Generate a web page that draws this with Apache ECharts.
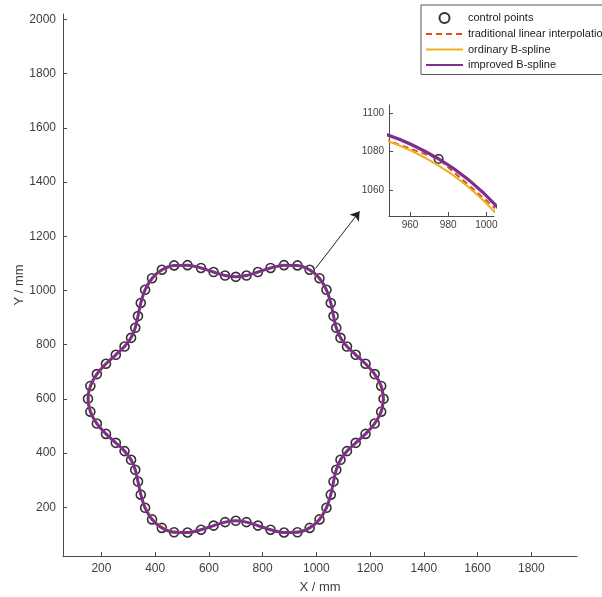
<!DOCTYPE html>
<html>
<head>
<meta charset="utf-8">
<script src="https://cdn.jsdelivr.net/npm/echarts@6/dist/echarts.min.js"></script>
<style>
html,body{margin:0;padding:0;background:#fff;}
#chart{width:602px;height:597px;}
</style>
</head>
<body>
<div id="chart"></div>
<script>
// Control points (X / mm, Y / mm)
var ctrlX = [1250,1241.2,1217.0,1183.0,1146.4,1113.9,1089.7,1074.1,1063.9,1053.6,1037.5,1011.6,975.0,929.6,879.6,829.4,782.5,739.8,
  700,660.2,617.5,570.6,520.4,470.4,425.0,388.4,362.5,346.4,336.1,325.9,310.3,286.1,253.6,217.0,183.0,158.8,
  150,158.8,183.0,217.0,253.6,286.1,310.3,325.9,336.1,346.4,362.5,388.4,425.0,470.4,520.4,570.6,617.5,660.2,
  700,739.8,782.5,829.4,879.6,929.6,975.0,1011.6,1037.5,1053.6,1063.9,1074.1,1089.7,1113.9,1146.4,1183.0,1217.0,1241.2];
var ctrlY = [600,647.4,691.2,729.4,762.5,793.0,825.0,862.0,905.3,953.6,1002.2,1045.0,1076.3,1092.4,1093.3,1083.0,1067.8,1055.0,
  1050,1055.0,1067.8,1083.0,1093.3,1092.4,1076.3,1045.0,1002.2,953.6,905.3,862.0,825.0,793.0,762.5,729.4,691.2,647.4,
  600,552.6,508.8,470.6,437.5,407.0,375.0,338.0,294.7,246.4,197.8,155.0,123.7,107.6,106.7,117.0,132.2,145.0,
  150,145.0,132.2,117.0,106.7,107.6,123.7,155.0,197.8,246.4,294.7,338.0,375.0,407.0,437.5,470.6,508.8,552.6];
// Ordinary B-spline curve (read slightly inside the control polygon)
var bsplX = [1247.1,1238.6,1215.4,1182.6,1147.1,1115.3,1091.1,1075.0,1063.9,1052.6,1035.9,1009.8,973.5,928.8,879.6,830.0,783.2,740.3,
  700,659.7,616.8,570.0,520.4,471.2,426.5,390.2,364.1,347.4,336.1,325.0,308.9,284.7,252.9,217.4,184.6,161.4,
  152.9,161.4,184.6,217.4,252.9,284.7,308.9,325.0,336.1,347.4,364.1,390.2,426.5,471.2,520.4,570.0,616.8,659.7,
  700,740.3,783.2,830.0,879.6,928.8,973.5,1009.8,1035.9,1052.6,1063.9,1075.0,1091.1,1115.3,1147.1,1182.6,1215.4,1238.6];
var bsplY = [600,646.8,690.3,728.6,762.1,793.3,825.8,863.1,906.1,953.6,1001.2,1043.1,1073.8,1089.9,1091.4,1082.2,1068.2,1056.3,
  1051.7,1056.3,1068.2,1082.2,1091.4,1089.9,1073.8,1043.1,1001.2,953.6,906.1,863.1,825.8,793.3,762.1,728.6,690.3,646.8,
  600,553.2,509.7,471.4,437.9,406.7,374.2,336.9,293.9,246.4,198.8,156.9,126.2,110.1,108.6,117.8,131.8,143.7,
  148.3,143.7,131.8,117.8,108.6,110.1,126.2,156.9,198.8,246.4,293.9,336.9,374.2,406.7,437.9,471.4,509.7,553.2];
var xTicks = [200,400,600,800,1000,1200,1400,1600,1800];
var yTicks = [200,400,600,800,1000,1200,1400,1600,1800,2000];
var insetXTicks = [960,980,1000];
var insetYTicks = [1060,1080,1100];
var arrowFrom = [997,1081];
var arrowTo = [1161,1292];
var seriesNames = ['control points','traditional linear interpolation','ordinary B-spline','improved B-spline'];

function pairs(xs, ys, close) {
  var out = xs.map(function (x, i) { return [x, ys[i]]; });
  if (close) out.push([xs[0], ys[0]]);
  return out;
}
var ctrlPts = pairs(ctrlX, ctrlY, false);
var ctrlClosed = pairs(ctrlX, ctrlY, true);
var bsplClosed = pairs(bsplX, bsplY, true);

var PURPLE = '#7E2F8E', ORANGE = '#D95319', YELLOW = '#EDB120';
var AX = '#4a4a4a', LBL = '#404040';
var FONT = 'Liberation Sans, Arial, Helvetica, sans-serif';

function mkSeries(gi) {
  var main = gi === 0;
  return [
    {
      name: seriesNames[0], type: 'scatter', xAxisIndex: gi, yAxisIndex: gi,
      data: ctrlPts, symbol: 'circle', symbolSize: main ? 9 : 8.5, z: 2,
      itemStyle: { color: 'rgba(0,0,0,0)', borderColor: '#000', borderWidth: 1.6 },
      silent: true
    },
    {
      name: seriesNames[1], type: 'line', xAxisIndex: gi, yAxisIndex: gi,
      data: ctrlClosed, symbol: 'none', smooth: false, z: 3,
      lineStyle: { color: ORANGE, width: main ? 1.8 : 2, type: [6, 4] },
      itemStyle: { color: ORANGE }, silent: true
    },
    {
      name: seriesNames[2], type: 'line', xAxisIndex: gi, yAxisIndex: gi,
      data: bsplClosed, symbol: 'none', smooth: 0.33, z: 4,
      lineStyle: { color: YELLOW, width: 2 },
      itemStyle: { color: YELLOW }, silent: true
    },
    {
      name: seriesNames[3], type: 'line', xAxisIndex: gi, yAxisIndex: gi,
      data: ctrlClosed, symbol: 'none', smooth: 0.33, z: 5,
      lineStyle: { color: PURPLE, width: main ? 3 : 3.2 },
      itemStyle: { color: PURPLE }, silent: true
    }
  ];
}

var series = mkSeries(0).concat(mkSeries(1));
series.push({
  type: 'line', xAxisIndex: 0, yAxisIndex: 0, data: [], silent: true,
  markLine: {
    silent: true, animation: false,
    symbol: ['none', 'arrow'], symbolSize: 9,
    lineStyle: { color: '#222', width: 1, type: 'solid' },
    label: { show: false },
    data: [[{ coord: arrowFrom }, { coord: arrowTo }]]
  }
});

function plain(v) { return String(v); }

function valueAxis(min, max, ticks, fs, margin, extra) {
  var a = {
    type: 'value', min: min, max: max,
    splitLine: { show: false },
    axisLine: { show: true, onZero: false, lineStyle: { color: AX, width: 1 } },
    axisTick: { show: true, inside: true, length: 4, customValues: ticks, lineStyle: { color: AX } },
    axisLabel: { customValues: ticks, color: LBL, fontSize: fs, fontFamily: FONT, margin: margin, formatter: plain }
  };
  for (var k in extra) a[k] = extra[k];
  return a;
}

var chart = echarts.init(document.getElementById('chart'), null, { renderer: 'canvas' });
chart.setOption({
  animation: false,
  backgroundColor: '#fff',
  grid: [
    { left: 63, right: 25, top: 14, bottom: 41, containLabel: false, outerBoundsMode: 'none' },
    { left: 389, top: 105, width: 105, height: 111, containLabel: false, outerBoundsMode: 'none' }
  ],
  xAxis: [
    valueAxis(57, 1970, xTicks, 12, 7, {
      name: 'X / mm', nameLocation: 'middle', nameGap: 25, nameMoveOverlap: false,
      nameTextStyle: { color: LBL, fontSize: 13, fontFamily: FONT }
    }),
    valueAxis(949, 1004, insetXTicks, 10, 4, { gridIndex: 1 })
  ],
  yAxis: [
    valueAxis(20, 2020, yTicks, 12, 7, {
      name: 'Y / mm', nameLocation: 'middle', nameGap: 37, nameRotate: 90, nameMoveOverlap: false,
      nameTextStyle: { color: LBL, fontSize: 13, fontFamily: FONT }
    }),
    valueAxis(1047, 1104, insetYTicks, 10, 5, { gridIndex: 1 })
  ],
  legend: {
    orient: 'vertical', left: 421, top: 5,
    backgroundColor: '#fff', borderColor: '#555', borderWidth: 1,
    padding: [7, 5, 4, 4], itemGap: 4.5, itemWidth: 37, itemHeight: 10,
    textStyle: { color: '#222', fontSize: 11, fontFamily: FONT },
    data: [
      { name: seriesNames[0] },
      { name: seriesNames[1], itemStyle: { opacity: 0 } },
      { name: seriesNames[2], itemStyle: { opacity: 0 } },
      { name: seriesNames[3], itemStyle: { opacity: 0 } }
    ],
    selectedMode: false
  },
  series: series
});
</script>
</body>
</html>
